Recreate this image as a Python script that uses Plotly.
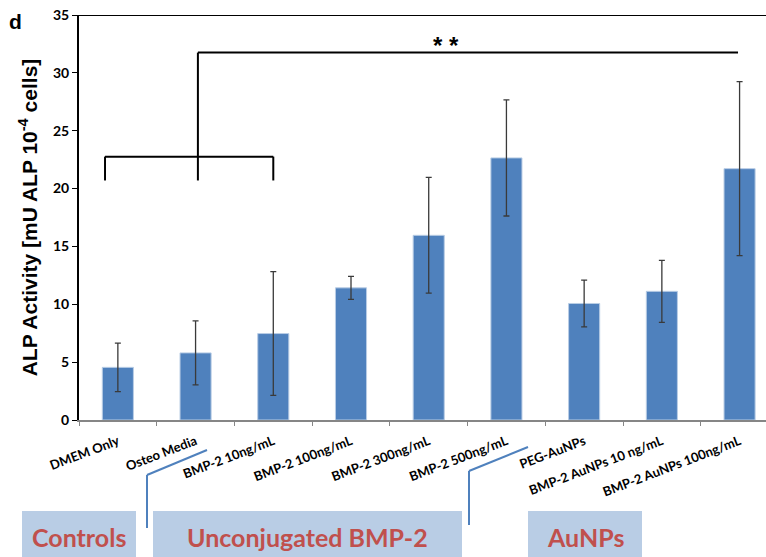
import plotly.graph_objects as go

categories = ["DMEM Only", "Osteo Media", "BMP-2 10ng/mL", "BMP-2 100ng/mL",
              "BMP-2 300ng/mL", "BMP-2 500ng/mL", "PEG-AuNPs",
              "BMP-2 AuNPs 10 ng/mL", "BMP-2 AuNPs 100ng/mL"]
alp_mean = [4.55, 5.8, 7.47, 11.42, 15.96, 22.65, 10.07, 11.12, 21.72]
alp_err = [2.1, 2.77, 5.35, 1.0, 5.0, 5.02, 2.02, 2.68, 7.52]
y_ticks = [0, 5, 10, 15, 20, 25, 30, 35]

W, H = 766, 557
L, R, T, B = 79, 0, 15, 137
PW, PH = W - L - R, H - T - B


def px(x):
    return (x - L) / PW


def py(y):
    return (H - B - y) / PH


fig = go.Figure()
fig.add_trace(go.Bar(
    x=categories, y=alp_mean, width=0.4,
    marker=dict(color="#4f81bd", line=dict(color="#b9cde5", width=1)),
    error_y=dict(type="data", array=alp_err, visible=True,
                 color="#3a3a3a", thickness=1.3, width=3),
))

shapes = []
# top border line
shapes.append(dict(type="line", xref="paper", yref="y", x0=0, x1=1, y0=35, y1=35,
                   line=dict(color="black", width=2)))
# significance brackets
blk = dict(color="black", width=2)
shapes += [
    dict(type="line", xref="x", yref="y", x0=-0.165, x1=2.0, y0=22.76, y1=22.76, line=blk),
    dict(type="line", xref="x", yref="y", x0=-0.165, x1=-0.165, y0=20.7, y1=22.76, line=blk),
    dict(type="line", xref="x", yref="y", x0=2.0, x1=2.0, y0=20.7, y1=22.76, line=blk),
    dict(type="line", xref="x", yref="y", x0=1.03, x1=1.03, y0=20.7, y1=31.75, line=blk),
    dict(type="line", xref="x", yref="y", x0=1.03, x1=7.98, y0=31.75, y1=31.75, line=blk),
]
# group boxes
box_fill = "#b9cde5"
for x0, x1 in [(22, 136), (153, 462), (528, 642)]:
    shapes.append(dict(type="rect", xref="paper", yref="paper",
                       x0=px(x0), x1=px(x1), y0=py(560), y1=py(511),
                       fillcolor=box_fill, line=dict(width=0), layer="above"))
# blue separator lines
bl = dict(color="#4f81bd", width=2)
for pts in [[(147, 528), (147, 475), (207, 450)], [(469, 525), (469, 471), (528, 447)]]:
    for (xa, ya), (xb, yb) in zip(pts[:-1], pts[1:]):
        shapes.append(dict(type="line", xref="paper", yref="paper",
                           x0=px(xa), y0=py(ya), x1=px(xb), y1=py(yb), line=bl))

annotations = [
    dict(text="<b>* *</b>", xref="paper", yref="paper", x=px(446), y=py(46),
         showarrow=False, font=dict(family="Arial", size=24, color="black"),
         xanchor="center", yanchor="middle"),
    dict(text="<b>d</b>", xref="paper", yref="paper", x=px(16), y=py(22),
         showarrow=False, font=dict(family="Arial", size=21, color="black"),
         xanchor="center", yanchor="middle"),
]
for label, xc in [("Controls", 79), ("Unconjugated BMP-2", 307), ("AuNPs", 585)]:
    annotations.append(dict(text="<b>" + label + "</b>", xref="paper", yref="paper",
                            x=px(xc), y=py(537), showarrow=False,
                            font=dict(family="Lato", size=25, color="#c0504d"),
                            xanchor="center", yanchor="middle"))

fig.update_layout(
    width=W, height=H,
    margin=dict(l=L, r=R, t=T, b=B, autoexpand=False),
    plot_bgcolor="white", paper_bgcolor="white",
    showlegend=False,
    shapes=shapes, annotations=annotations,
    xaxis=dict(range=[-0.5, 8.34], showgrid=False, showline=True, automargin=False,
               linecolor="#868686", linewidth=2, tickson="boundaries",
               ticks="outside", ticklen=4, tickcolor="#868686", tickangle=-21,
               ticklabelstandoff=7,
               tickfont=dict(family="Lato", size=13, color="black", weight="bold")),
    yaxis=dict(range=[0, 35], tickvals=y_ticks, showgrid=False, zeroline=False,
               showline=True, linecolor="black", linewidth=2, automargin=False,
               ticks="outside", ticklen=5, tickcolor="black",
               tickfont=dict(family="Lato", size=14, color="black", weight="bold"),
               title=dict(text="<b>ALP Activity [mU ALP 10<sup>-4</sup> cells]</b>",
                          font=dict(family="Arial", size=21, color="black"),
                          standoff=10)),
)

fig.write_html("out.html", config={"displayModeBar": False},
               post_script="document.body.style.margin='0';")
